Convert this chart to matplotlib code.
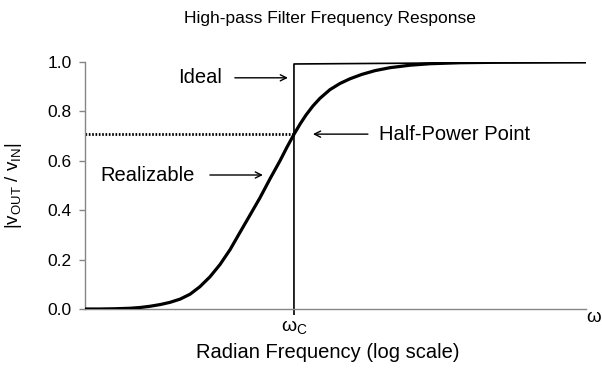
import matplotlib
matplotlib.use("Agg")
import matplotlib.pyplot as plt
from matplotlib.ticker import NullLocator

plt.rcParams["font.family"] = ["Liberation Sans", "DejaVu Sans"]
plt.rcParams["mathtext.fontset"] = "custom"
plt.rcParams["mathtext.rm"] = "Liberation Sans"
plt.rcParams["mathtext.it"] = "Liberation Sans"

# Frequencies as multiples of the cutoff (w / wc), plotted on a log axis
freq_ratio = [0.0300, 0.0386, 0.0496, 0.0638, 0.0754, 0.0892, 0.106, 0.125,
              0.148, 0.175, 0.206, 0.244, 0.289, 0.342, 0.404, 0.478, 0.565,
              0.669, 0.791, 0.889, 1.0, 1.106, 1.223, 1.375, 1.547, 1.829,
              2.164, 2.559, 3.131, 3.894, 5.009, 7.007, 9.80, 16.21, 31.72,
              134.4]
# Realizable response magnitude |vout / vin|
realizable = [0.0, 0.0, 0.001, 0.003, 0.006, 0.011, 0.018, 0.027,
              0.040, 0.060, 0.090, 0.130, 0.180, 0.240, 0.310, 0.380, 0.450,
              0.527, 0.600, 0.655, 0.707, 0.748, 0.785, 0.822, 0.853, 0.888,
              0.913, 0.932, 0.950, 0.965, 0.977, 0.987, 0.993, 0.997, 0.999,
              1.0]

# Ideal (brick-wall) response
ideal_freq = [1.0, 1.0, 134.4]
ideal_mag = [0.0, 0.992, 1.0]

cutoff = 1.0
half_power = 0.707
x_min, x_max = 0.0300, 134.4

y_ticks = [0.0, 0.2, 0.4, 0.6, 0.8, 1.0]

fig = plt.figure(figsize=(6.02, 3.72), dpi=100)
ax = fig.add_axes([85 / 602, 1 - 309 / 372, 501 / 602, 247 / 372])

ax.plot(freq_ratio, realizable, color="black", lw=2.3, solid_capstyle="round",
        solid_joinstyle="round", zorder=3)
ax.plot(ideal_freq, ideal_mag, color="black", lw=1.2, zorder=2)
ax.plot([x_min, cutoff], [half_power, half_power], color="black", lw=2.0,
        linestyle=(0, (0.6, 0.6)), zorder=2)

ax.set_xscale("log")
ax.set_xlim(x_min, x_max)
ax.set_ylim(0.0, 1.0)

ax.set_yticks(y_ticks)
ax.set_yticklabels([f"{v:.1f}" for v in y_ticks])
ax.set_xticks([cutoff])
ax.set_xticklabels([r"$\mathregular{\omega_C}$"])
ax.xaxis.set_minor_locator(NullLocator())

for side in ("top", "right"):
    ax.spines[side].set_visible(False)
for side in ("left", "bottom"):
    ax.spines[side].set_color("#868686")
    ax.spines[side].set_linewidth(1.0)

ax.tick_params(axis="y", direction="out", length=4.3, width=1.0, color="#868686",
               labelsize=12.5, pad=5.5)
ax.tick_params(axis="x", direction="out", length=4.3, width=1.2, color="black",
               labelsize=14, pad=2)

ax.set_ylabel(r"$\mathregular{|v_{OUT}\ /\ v_{IN}|}$", fontsize=13.5)
ax.yaxis.set_label_coords(-0.122, 0.5)

ax.text(1.016, -0.034, r"$\mathregular{\omega}$", transform=ax.transAxes,
        ha="center", va="center", fontsize=13.5)

fig.text(330 / 602, 1 - 18 / 372, "High-pass Filter Frequency Response",
         ha="center", va="center", fontsize=12.5)
fig.text(328 / 602, 1 - 353 / 372, "Radian Frequency (log scale)",
         ha="center", va="center", fontsize=14.5)

arrow = dict(arrowstyle="->", lw=1.0, color="black", shrinkA=0, shrinkB=0,
             mutation_scale=11)

ax.annotate("", xy=(0.904, 0.936), xytext=(0.371, 0.936), arrowprops=arrow)
ax.text(0.299, 0.936, "Ideal", ha="right", va="center", fontsize=14.5)

ax.annotate("", xy=(1.375, 0.708), xytext=(3.46, 0.708), arrowprops=arrow)
ax.text(4.16, 0.708, "Half-Power Point", ha="left", va="center", fontsize=14.5)

ax.annotate("", xy=(0.594, 0.5425), xytext=(0.244, 0.5425), arrowprops=arrow)
ax.text(0.19, 0.5425, "Realizable", ha="right", va="center", fontsize=14.5)

fig.savefig("out.png", dpi=100)
